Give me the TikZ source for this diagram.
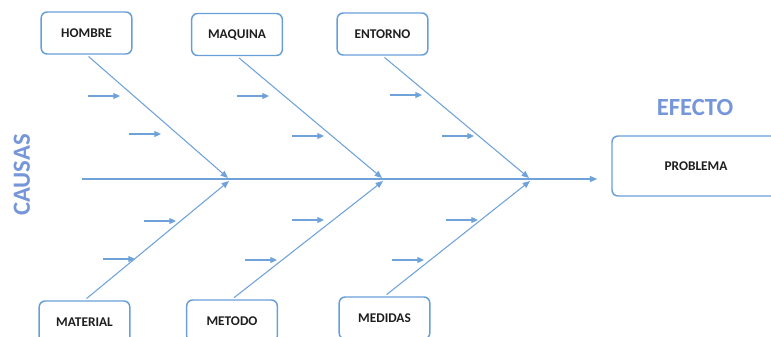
\documentclass[tikz,border=0pt]{standalone}
\usepackage{fontspec}
\setmainfont{Carlito}
\usetikzlibrary{arrows.meta}
\definecolor{bone}{RGB}{112,162,218}
\definecolor{frame}{RGB}{104,158,216}
\definecolor{title}{RGB}{118,150,218}
\definecolor{label}{RGB}{30,30,30}
\begin{document}
\begin{tikzpicture}[x=0.75pt,y=-0.75pt,
  cause/.style={draw=frame, line width=1.1pt, rounded corners=4.5pt,
    minimum width=68pt, minimum height=31.5pt, inner sep=0pt,
    font=\bfseries\fontsize{10}{12}\selectfont, text=label},
  bone/.style={draw=bone, line width=0.8pt, -{Triangle[length=5.5pt,width=4.5pt]}},
  twig/.style={draw=bone, line width=0.8pt, -{Triangle[length=5pt,width=4.5pt]}},
  heading/.style={text=title, font=\bfseries\fontsize{18.5}{20}\selectfont}]
\clip (0,0) rectangle (771,336);

% cause categories
\node[cause] (hombre)   at (86.5,33)  {HOMBRE};
\node[cause] (maquina)  at (237,34.5) {MAQUINA};
\node[cause] (entorno)  at (382.5,34) {ENTORNO};
\node[cause] (material) at (84.5,322) {MATERIAL};
\node[cause] (metodo)   at (232,321)  {METODO};
\node[cause] (medidas)  at (384.5,318) {MEDIDAS};

% effect
\node[cause, minimum width=126pt, minimum height=45pt] (problema) at (696,166) {PROBLEMA};

% headings
\node[heading] (efecto) at (695,107) {EFECTO};
\node[heading, rotate=90] (causas) at (22,175) {CAUSAS};

% spine and junctions
\coordinate (tail) at (82,179);
\coordinate (j1t) at (228,178);
\coordinate (j1b) at (229,181);
\coordinate (j2t) at (382,178);
\coordinate (j2b) at (383,181);
\coordinate (j3t) at (529,178);
\coordinate (j3b) at (530,181);
\draw[bone, shorten >=10.5pt] (tail) -- (tail -| problema.west);

% main bones
\draw[bone, shorten <=2pt] (hombre.south)   -- (j1t);
\draw[bone, shorten <=2pt] (maquina.south)  -- (j2t);
\draw[bone, shorten <=2pt] (entorno.south)  -- (j3t);
\draw[bone, shorten <=2pt] (material.north) -- (j1b);
\draw[bone, shorten <=2pt] (metodo.north)   -- (j2b);
\draw[bone, shorten <=2pt] (medidas.north)  -- (j3b);

% sub-cause arrows
\foreach \n/\x/\y in {1/88/96, 2/129/134, 3/144/221, 4/103/259,
                      5/237/96, 6/292/136, 7/292/220, 8/245/260,
                      9/390/95, 10/442/136, 11/446/220, 12/392/260}{
  \coordinate (s\n) at (\x,\y);
  \draw[twig] (s\n) -- ++(32,0);
}
\end{tikzpicture}
\end{document}
